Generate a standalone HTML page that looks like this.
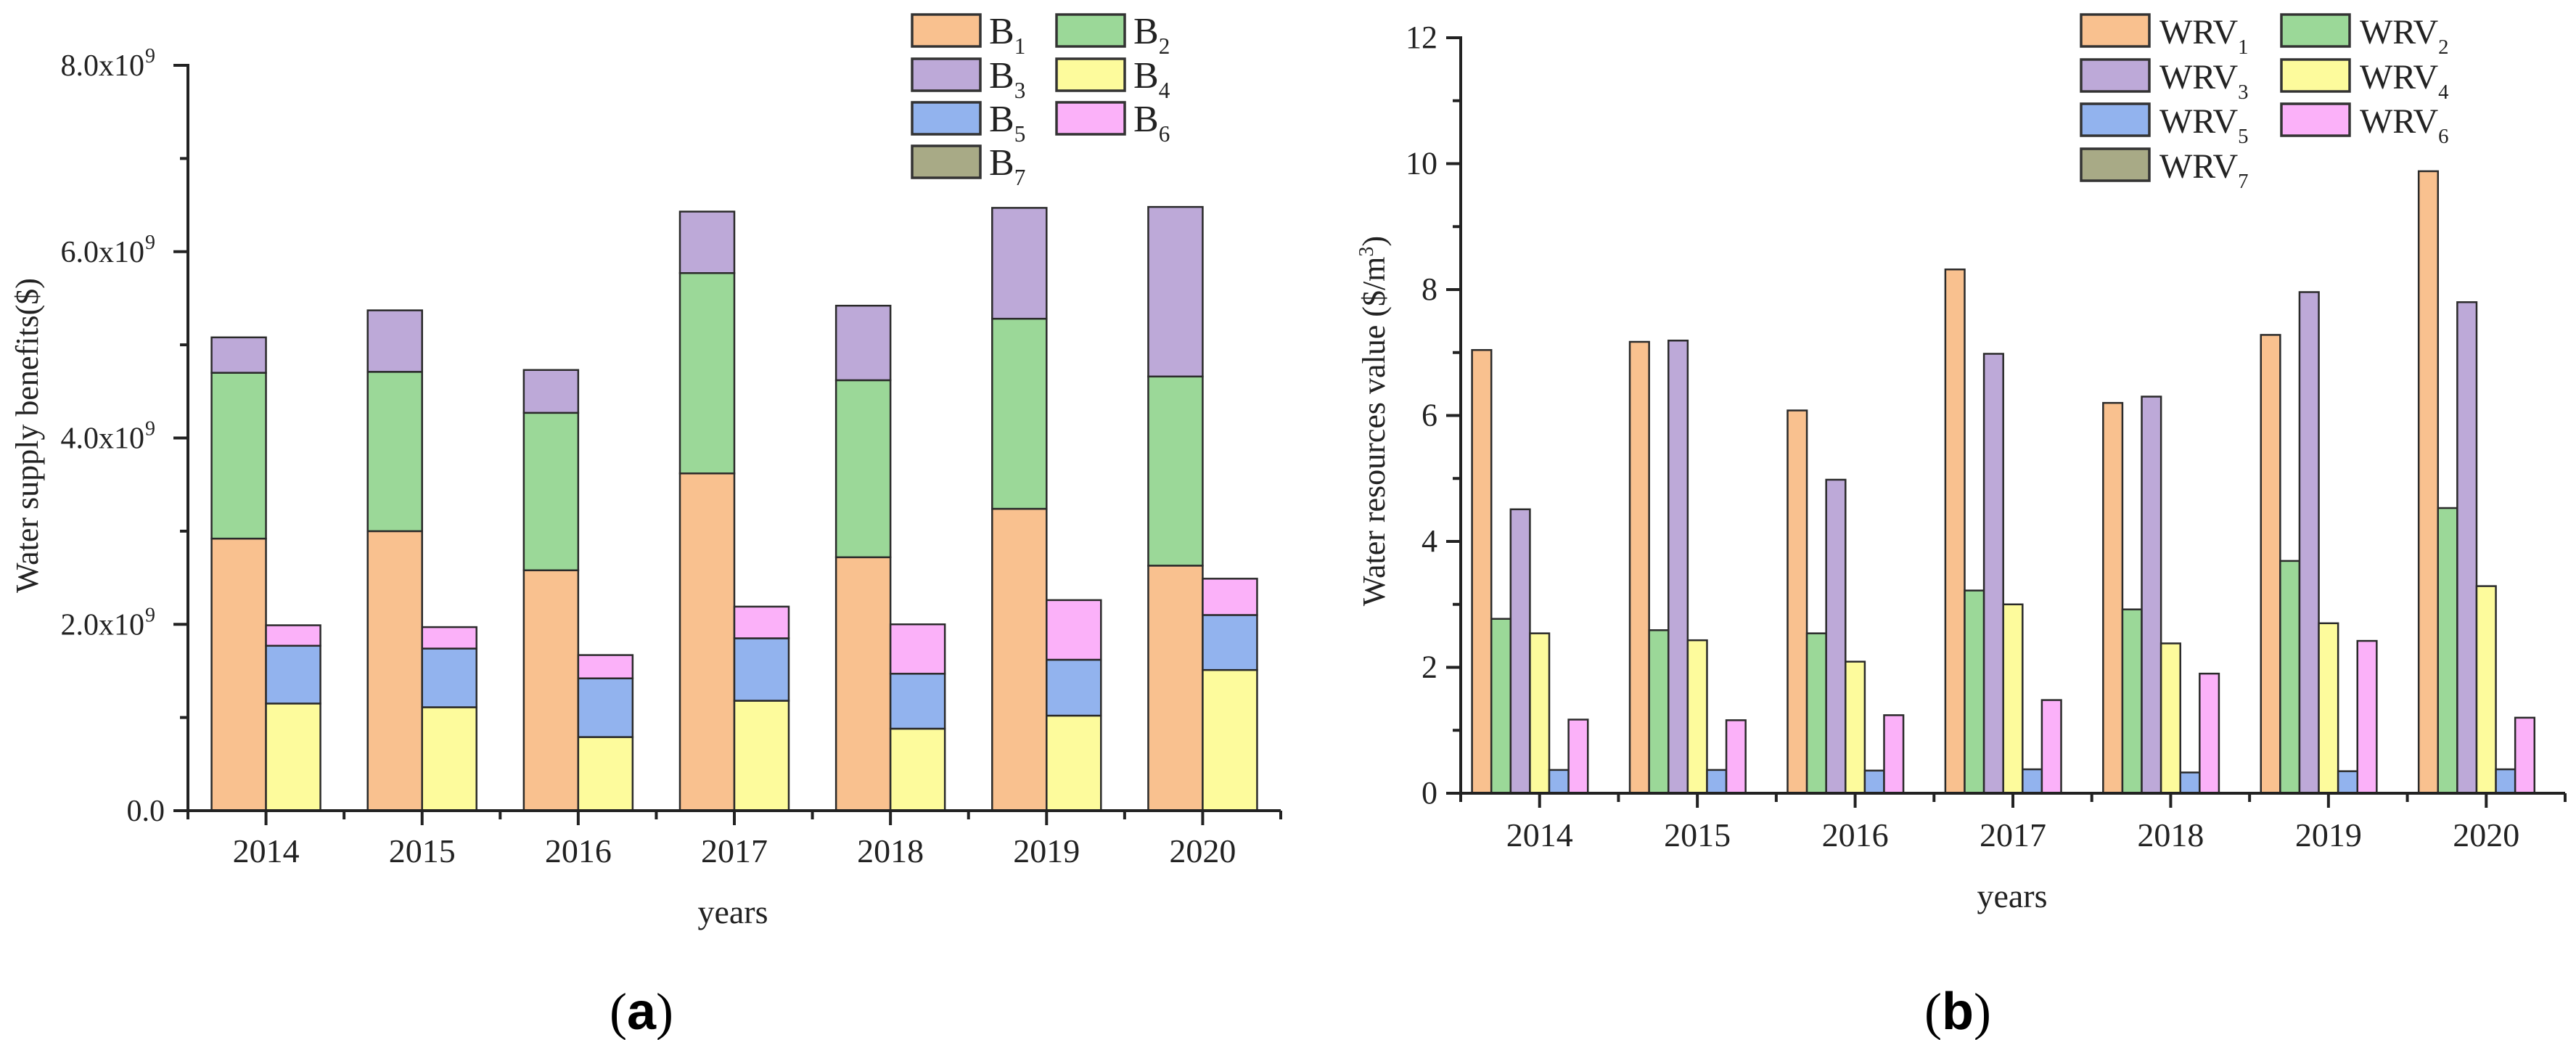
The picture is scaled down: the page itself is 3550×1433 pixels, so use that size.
<!DOCTYPE html>
<html><head><meta charset="utf-8"><style>
html,body{margin:0;padding:0;background:#fff;}
svg{display:block;font-family:"Liberation Serif",serif;}
svg text{font-family:"Liberation Serif",serif;}
</style></head><body>
<svg id="fig" width="3550" height="1433" viewBox="0 0 3550 1433" xmlns="http://www.w3.org/2000/svg">
<g id="chartA"></g>
<g id="chartB"></g>
<text x="884" y="1418" text-anchor="middle" font-size="72" font-family="Liberation Sans, sans-serif" style="font-family:'Liberation Sans',sans-serif"><tspan style="font-family:'Liberation Serif',serif">(</tspan><tspan font-weight="bold">a</tspan><tspan style="font-family:'Liberation Serif',serif">)</tspan></text>
<text x="2698" y="1418" text-anchor="middle" font-size="72" font-family="Liberation Sans, sans-serif" style="font-family:'Liberation Sans',sans-serif"><tspan style="font-family:'Liberation Serif',serif">(</tspan><tspan font-weight="bold">b</tspan><tspan style="font-family:'Liberation Serif',serif">)</tspan></text>
</svg>
<script>
const years = ["2014","2015","2016","2017","2018","2019","2020"];
const b1 = [2.92,3.00,2.58,3.62,2.72,3.24,2.63];
const b2 = [1.78,1.71,1.69,2.15,1.90,2.04,2.03];
const b3 = [0.38,0.66,0.46,0.66,0.80,1.19,1.82];
const b4 = [1.15,1.11,0.79,1.18,0.88,1.02,1.51];
const b5 = [0.62,0.63,0.63,0.67,0.59,0.60,0.59];
const b6 = [0.22,0.23,0.25,0.34,0.53,0.64,0.39];
const b7 = [0,0,0,0,0,0,0];
const yTicksA = [0,2,4,6,8];
const yTickLabelsA = ["0.0","2.0x10","4.0x10","6.0x10","8.0x10"];
const wrv1 = [7.04,7.17,6.08,8.32,6.20,7.28,9.88];
const wrv2 = [2.77,2.59,2.54,3.22,2.92,3.69,4.53];
const wrv3 = [4.51,7.19,4.98,6.98,6.30,7.96,7.80];
const wrv4 = [2.54,2.43,2.09,3.00,2.38,2.70,3.29];
const wrv5 = [0.37,0.37,0.36,0.38,0.33,0.35,0.38];
const wrv6 = [1.17,1.16,1.24,1.48,1.90,2.42,1.20];
const wrv7 = [0,0,0,0,0,0,0];
const yTicksB = [0,2,4,6,8,10,12];

const colors = ["#f9c18f","#9bd898","#bda9d8","#fdfb9c","#92b3ee","#fbb1f9","#a8aa86"];
const NS = "http://www.w3.org/2000/svg";
function mk(parent, tag, attrs){const e=document.createElementNS(NS,tag);for(const k in attrs)e.setAttribute(k,attrs[k]);if(tag==="text"){e.setAttribute("font-family","Liberation Serif, serif");}parent.appendChild(e);return e;}

function axes(g, x0, x1, y0, yTop, yScale, ticks, labels, isA){
  let e = mk(g,"line",{x1:x0,y1:y0+2,x2:x0,y2:yTop-2,stroke:"#222","stroke-width":4});
  
  
  e = mk(g,"line",{x1:x0-20,y1:y0,x2:x1,y2:y0,stroke:"#222","stroke-width":4});
  
  
  ticks.forEach((t,i)=>{
    const y=yScale(t);
    let tk=mk(g,"line",{x1:x0-20,y1:y,x2:x0,y2:y,stroke:"#222","stroke-width":4});
    
    
    if(i<ticks.length-1){
      const ym=yScale((t+ticks[i+1])/2);
      let m=mk(g,"line",{x1:x0-11,y1:ym,x2:x0,y2:ym,stroke:"#222","stroke-width":4});
      
      
    }
    const lab=mk(g,"text",{x:isA?(t===0?x0-32:x0-60):x0-32,y:y+14,"text-anchor":"end","font-size":isA?42:44,fill:"#222"});
    
    
    lab.textContent = isA?labels[i]:String(t);
    if(isA && t!==0){
      const sup=mk(g,"text",{x:x0-59,y:y-4,"font-size":28,fill:"#222"});
      
      
      sup.textContent="9";
    }
  });
}

function xAxis(g,xScale,x0,y0,labY){
  years.forEach((yr,i)=>{
    const cx=xScale(i);
    let t=mk(g,"line",{x1:cx,y1:y0,x2:cx,y2:y0+20,stroke:"#222","stroke-width":4});
    
    
    const b=xScale(i-0.5);
    t=mk(g,"line",{x1:b,y1:y0,x2:b,y2:y0+12,stroke:"#222","stroke-width":4});
    
    
    const l=mk(g,"text",{x:cx,y:labY,"text-anchor":"middle","font-size":46,fill:"#222"});
    
    
    l.textContent=yr;
  });
  const b=xScale(years.length-0.5);
  const t=mk(g,"line",{x1:b,y1:y0,x2:b,y2:y0+12,stroke:"#222","stroke-width":4});
  
  
}

function legend(g, names, sub, cols, rowsY, boxW, fs, textOff){
  names.forEach((n,i)=>{
    const c=i%2, r=Math.floor(i/2);
    const x=cols[c], y=rowsY[r];
    const box=mk(g,"rect",{x:x,y:y,width:boxW,height:44,fill:colors[i],stroke:"#333","stroke-width":3.5});
    
    
    const t=mk(g,"text",{x:x+boxW+textOff,y:y+40,"font-size":fs,fill:"#222"});
    
    
    t.textContent=n;
    const s=mk(t,"tspan",{"font-size":fs*0.6,dy:14});
    s.textContent=sub[i];
  });
}

// ---------- Chart A ----------
(function(){
  const g=document.getElementById("chartA");
  const x0=259, x1=1765, y0=1117, yTop=90;
  const step=(x1-x0)/7;
  const xScale=i=>x0+(i+0.5)*step;
  const yScale=v=>y0-(v/8)*(y0-yTop);
  const bw=75;
  const left=[b1,b2,b3], right=[b4,b5,b6,b7];
  years.forEach((yr,i)=>{
    let acc=0;
    left.forEach((s,k)=>{
      const yA=yScale(acc), yB=yScale(acc+s[i]);
      const r=mk(g,"rect",{x:xScale(i)-bw,y:yB,width:bw,height:Math.max(0,yA-yB),fill:colors[k],stroke:"#2a2a2a","stroke-width":2.5});
      
      
      acc+=s[i];
    });
    acc=0;
    right.forEach((s,k)=>{
      const yA=yScale(acc), yB=yScale(acc+s[i]);
      if(s[i]>0){
      const r=mk(g,"rect",{x:xScale(i),y:yB,width:bw,height:Math.max(0,yA-yB),fill:colors[k+3],stroke:"#2a2a2a","stroke-width":2.5});
      
      
      }
      acc+=s[i];
    });
  });
  axes(g,x0,x1,y0,yTop,yScale,yTicksA,yTickLabelsA,true);
  xAxis(g,xScale,x0,y0,1188);
  let t=mk(g,"text",{x:0,y:0,"text-anchor":"middle","font-size":44,fill:"#222",transform:"translate(52,600) rotate(-90)"});
  
  
  t.textContent="Water supply benefits($)";
  t=mk(g,"text",{x:1010,y:1272,"text-anchor":"middle","font-size":46,fill:"#222"});
  
  
  t.textContent="years";
  legend(g,["B","B","B","B","B","B","B"],["1","2","3","4","5","6","7"],[1257,1456],[20,81,141,201],94,52,12);
})();

// ---------- Chart B ----------
(function(){
  const g=document.getElementById("chartB");
  const x0=2013, x1=3535, y0=1093, yTop=52;
  const step=(x1-x0)/7;
  const xScale=i=>x0+(i+0.5)*step;
  const yScale=v=>y0-(v/12)*(y0-yTop);
  const bw=26.6;
  const series=[wrv1,wrv2,wrv3,wrv4,wrv5,wrv6,wrv7];
  years.forEach((yr,i)=>{
    series.forEach((s,k)=>{
      if(s[i]<=0) return;
      const x=xScale(i)-3.5*bw+k*bw;
      const r=mk(g,"rect",{x:x,y:yScale(s[i]),width:bw,height:y0-yScale(s[i]),fill:colors[k],stroke:"#2a2a2a","stroke-width":2.5});
      
      
    });
  });
  axes(g,x0,x1,y0,yTop,yScale,yTicksB,null,false);
  xAxis(g,xScale,x0,y0,1166);
  let t=mk(g,"text",{x:0,y:0,"text-anchor":"middle","font-size":44,fill:"#222",transform:"translate(1908,580) rotate(-90)"});
  
  
  t.textContent="Water resources value ($/m";
  const s=mk(t,"tspan",{"font-size":28,dy:-16});s.textContent="3";
  const s2=mk(t,"tspan",{"font-size":44,dy:16});s2.textContent=")";
  t=mk(g,"text",{x:2773,y:1250,"text-anchor":"middle","font-size":46,fill:"#222"});
  
  
  t.textContent="years";
  legend(g,["WRV","WRV","WRV","WRV","WRV","WRV","WRV"],["1","2","3","4","5","6","7"],[2868,3144],[20,82,143,205],94,48,14);
})();
</script>
</body></html>
